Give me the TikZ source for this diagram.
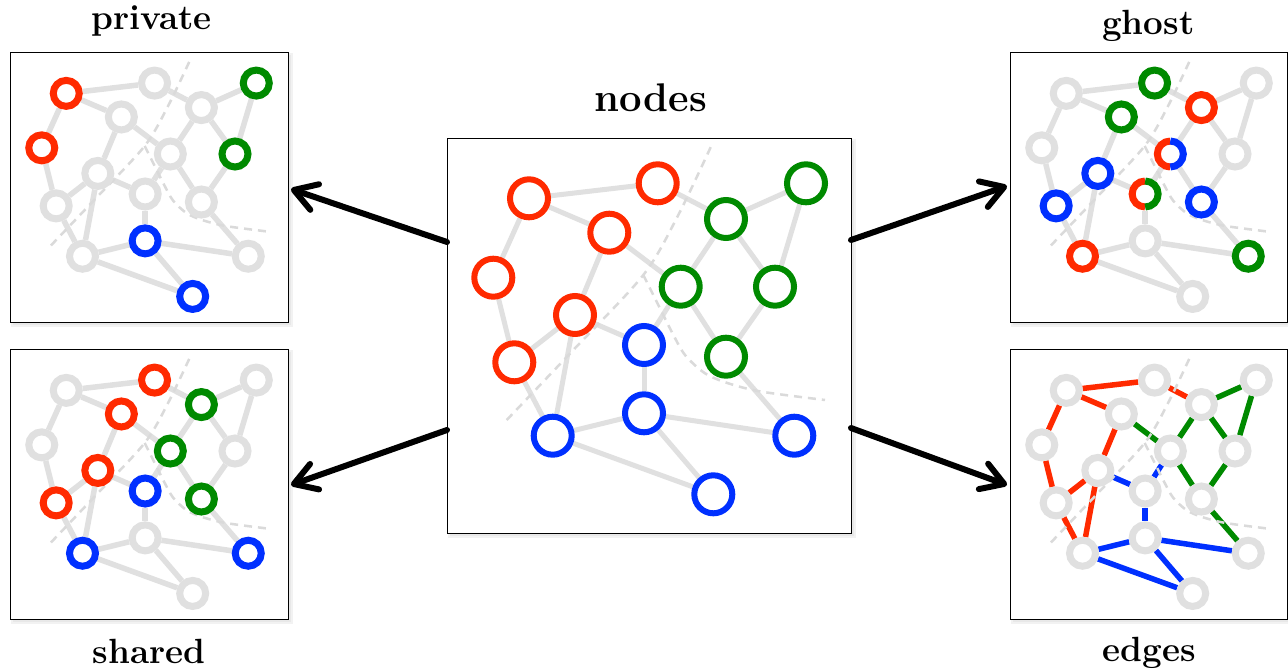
\documentclass[tikz,border=0pt]{standalone}
\usetikzlibrary{arrows.meta}
\definecolor{cred}{RGB}{255,42,0}
\definecolor{cgreen}{RGB}{0,138,0}
\definecolor{cblue}{RGB}{0,48,255}
\definecolor{lgray}{RGB}{224,224,224}
\definecolor{dgray}{RGB}{218,218,218}
\pgfdeclarelayer{shadow}
\pgfdeclarelayer{bg}
\pgfsetlayers{shadow,bg,main}

\def\nodelist{A/82/60.3, B/210.7/45.3, C/162.3/94.7, D/46.3/139.7, E/128/177, F/67.3/224.3, G/279/81, H/359/45.3, I/233.7/148.7, J/328/148.7, K/279/218.7, L/197/207, M/197/275.3, N/105.7/297.7, O/347.3/297.7, P/266.3/356.3}
\def\edgelist{A/B, A/C, A/D, D/F, F/E, F/N, E/C, E/N, E/L, C/I, B/G, G/H, G/I, G/J, H/J, I/K, J/K, I/L, K/O, L/M, M/N, M/O, M/P, N/P}

\tikzset{
  nodecol/.code={\pgfkeysifdefined{/tikz/k#1/.@cmd}{\pgfkeysalso{/tikz/k#1}}{}},
  edgecol/.code={\pgfkeysifdefined{/tikz/k#1/.@cmd}{\pgfkeysalso{/tikz/k#1}}{}},
  RR/.style={draw=cred}, GG/.style={draw=cgreen}, BB/.style={draw=cblue},
  ringbig/.style={circle, draw=lgray, fill=white, line width=6pt, minimum size=38pt, inner sep=0pt},
  ringsmall/.style={circle, draw=lgray, fill=white, line width=7pt, minimum size=26pt, inner sep=0pt},
  edgebig/.style={draw=lgray, line width=5pt},
  edgesmall/.style={draw=lgray, line width=5.5pt},
  dashS/.style={draw=dgray, line width=2.5pt, dash pattern=on 8pt off 6pt},
  box/.style={draw=black, line width=1.4pt, inner sep=0pt, anchor=north west},
  title/.style={font=\bfseries\fontsize{35}{42}\selectfont, anchor=base, inner sep=0pt},
  arr/.style={line width=6pt, line cap=round, line join=round, -{Straight Barb[length=22pt,width=27pt,round]}},
  % centre
  kcA/.style=RR, kcB/.style=RR, kcC/.style=RR, kcD/.style=RR, kcE/.style=RR, kcF/.style=RR,
  kcG/.style=GG, kcH/.style=GG, kcI/.style=GG, kcJ/.style=GG, kcK/.style=GG,
  kcL/.style=BB, kcM/.style=BB, kcN/.style=BB, kcO/.style=BB, kcP/.style=BB,
  % private
  kpA/.style=RR, kpD/.style=RR, kpH/.style=GG, kpJ/.style=GG, kpM/.style=BB, kpP/.style=BB,
  % shared
  ksB/.style=RR, ksC/.style=RR, ksE/.style=RR, ksF/.style=RR,
  ksG/.style=GG, ksI/.style=GG, ksK/.style=GG,
  ksL/.style=BB, ksN/.style=BB, ksO/.style=BB,
  % ghost
  kgB/.style=GG, kgC/.style=GG, kgO/.style=GG, kgG/.style=RR, kgN/.style=RR,
  kgE/.style=BB, kgF/.style=BB, kgK/.style=BB,
  kgI/.style={draw=none}, kgL/.style={draw=none},
  % edges
  keAB/.style=RR, keAC/.style=RR, keAD/.style=RR, keDF/.style=RR, keFE/.style=RR,
  keFN/.style=RR, keEC/.style=RR, keEN/.style=RR, keBG/.style=RR,
  keCI/.style=GG, keGH/.style=GG, keGI/.style=GG, keGJ/.style=GG, keHJ/.style=GG,
  keIK/.style=GG, keJK/.style=GG, keKO/.style=GG,
  keEL/.style=BB, keIL/.style=BB, keLM/.style=BB, keMN/.style=BB, keMO/.style=BB,
  keMP/.style=BB, keNP/.style=BB
}

\newcommand{\mkgraph}[6]{%
  \foreach \n/\x/\y in \nodelist {\node[#5, nodecol=#1\n] (#1\n) at ({#2+#4*\x},{#3+#4*\y}) {};}
  \begin{pgfonlayer}{bg}
    \foreach \a/\b in \edgelist {\draw[#6, edgecol=#1\a\b] (#1\a) -- (#1\b);}
    \begin{scope}[shift={(#2,#3)}, scale=#4]
      \draw[dashS] plot[smooth] coordinates {(59.7,282) (124.7,213.7) (196.3,137) (231.3,77) (264.7,7)};
      \draw[dashS] plot[smooth] coordinates {(196.3,137) (211.3,167) (224.7,193.7) (238,217) (258,235.3) (281.3,245.3) (314.7,253.7) (378,262)};
    \end{scope}
  \end{pgfonlayer}
}

\newcommand{\mkbox}[5]{% name, x, y, w, h
  \begin{pgfonlayer}{shadow}
    \fill[black!9] ({#2+2.5},{#3+2.5}) rectangle ++(#4,#5);
    \fill[black!5] ({#2+1},{#3+1}) rectangle ++({#4+3.5},{#5+3.5});
    \fill[black!9] ({#2+2.5},{#3+2.5}) rectangle ++(#4,#5);
    \fill[white] (#2,#3) rectangle ++(#4,#5);
  \end{pgfonlayer}
  \node[box, minimum width=#4pt, minimum height=#5pt] (#1) at (#2,#3) {};
}

\begin{document}
\begin{tikzpicture}[x=1pt, y=-1pt]
\useasboundingbox (0,0) rectangle (1288,672);

% boxes
\mkbox{cbox}{447}{138}{404}{395}
\mkbox{pbox}{10}{52}{278}{270}
\mkbox{gbox}{1010}{52}{277}{270}
\mkbox{sbox}{10}{349}{278}{270}
\mkbox{ebox}{1010}{349}{277}{270}

% graphs
\mkgraph{c}{447}{138}{1}{ringbig}{edgebig}
\mkgraph{p}{10}{52}{0.686}{ringsmall}{edgesmall}
\mkgraph{g}{1010}{52}{0.686}{ringsmall}{edgesmall}
\mkgraph{s}{10}{349}{0.686}{ringsmall}{edgesmall}
\mkgraph{e}{1010}{349}{0.686}{ringsmall}{edgesmall}

% split rings in ghost panel
\draw[cred, line width=7pt] ([shift={(90:13pt)}]gI.center) arc[start angle=90, end angle=270, radius=13pt];
\draw[cblue, line width=7pt] ([shift={(-90:13pt)}]gI.center) arc[start angle=-90, end angle=90, radius=13pt];
\draw[cred, line width=7pt] ([shift={(90:13pt)}]gL.center) arc[start angle=90, end angle=270, radius=13pt];
\draw[cgreen, line width=7pt] ([shift={(-90:13pt)}]gL.center) arc[start angle=-90, end angle=90, radius=13pt];

% titles
\node[title, font=\bfseries\fontsize{40}{48}\selectfont] (tnodes) at (650.8,111.7) {nodes};
\node[title] (tpriv) at (151.7,29.5) {private};
\node[title] (tghost) at (1148.3,34.3) {ghost};
\node[title] (tshared) at (149.2,663.3) {shared};
\node[title] (tedges) at (1149.2,661.3) {edges};

% arrows
\coordinate (a1s) at (447,242); \coordinate (a1e) at (291,189);
\coordinate (a2s) at (447,430); \coordinate (a2e) at (291,485);
\coordinate (a3s) at (851,240); \coordinate (a3e) at (1007,186);
\coordinate (a4s) at (851,428); \coordinate (a4e) at (1007,485);
\draw[arr] (a1s) -- (a1e);
\draw[arr] (a2s) -- (a2e);
\draw[arr] (a3s) -- (a3e);
\draw[arr] (a4s) -- (a4e);
\end{tikzpicture}
\end{document}
